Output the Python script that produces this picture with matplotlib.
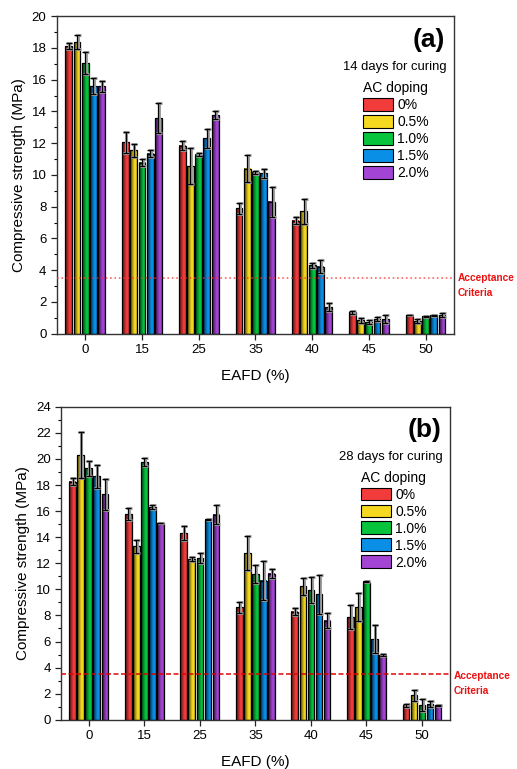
import numpy as np
import matplotlib
matplotlib.use("Agg")
import matplotlib.pyplot as plt
from matplotlib.ticker import MultipleLocator
from matplotlib.patches import Patch

plt.rcParams['font.family'] = ['Liberation Sans', 'DejaVu Sans']

# EAFD content (%) and AC doping levels
eafd = ['0', '15', '25', '35', '40', '45', '50']
doping = ['0%', '0.5%', '1.0%', '1.5%', '2.0%']
colors = ['#f23c3c', '#f5d820', '#06c43c', '#0a8fe6', '#a444d4']

# 14 days curing
d14_0 = [18.1, 12.05, 11.85, 7.9, 7.13, 1.35, 1.18]
d14_05 = [18.35, 11.55, 10.55, 10.4, 7.7, 0.85, 0.8]
d14_10 = [17.05, 10.78, 11.28, 10.17, 4.3, 0.72, 1.09]
d14_15 = [15.6, 11.34, 12.3, 10.1, 4.23, 0.92, 1.15]
d14_20 = [15.57, 13.6, 13.75, 8.32, 1.68, 0.92, 1.18]
e14_0 = [0.2, 0.65, 0.3, 0.33, 0.2, 0.1, 0.03]
e14_05 = [0.45, 0.4, 1.15, 0.85, 0.8, 0.15, 0.1]
e14_10 = [0.68, 0.2, 0.1, 0.1, 0.15, 0.13, 0.05]
e14_15 = [0.5, 0.2, 0.62, 0.3, 0.4, 0.13, 0.05]
e14_20 = [0.33, 0.95, 0.25, 0.95, 0.23, 0.27, 0.15]

# 28 days curing
d28_0 = [18.27, 15.77, 14.32, 8.63, 8.29, 7.87, 1.1]
d28_05 = [20.3, 13.29, 12.3, 12.79, 10.23, 8.64, 1.87]
d28_10 = [19.27, 19.78, 12.4, 11.18, 9.94, 10.6, 1.13]
d28_15 = [18.66, 16.3, 15.34, 10.68, 9.63, 6.19, 1.2]
d28_20 = [17.3, 15.08, 15.74, 11.2, 7.6, 4.96, 1.1]
e28_0 = [0.25, 0.45, 0.53, 0.42, 0.25, 0.9, 0.1]
e28_05 = [1.75, 0.5, 0.15, 1.3, 0.66, 1.07, 0.4]
e28_10 = [0.6, 0.33, 0.4, 0.69, 1.0, 0.02, 0.44]
e28_15 = [0.85, 0.16, 0.05, 1.5, 1.5, 1.1, 0.22]
e28_20 = [1.2, 0.02, 0.7, 0.33, 0.56, 0.1, 0.02]

accept = 3.5


def grad_fill(ax, rects, color):
    # horizontal dark -> bright gradient inside each bar
    base = np.array(matplotlib.colors.to_rgb(color))
    t = np.linspace(0, 1, 24)
    f = 0.3 + 0.7 * np.clip(t / 0.65, 0, 1)
    f[-3:] = f[-3:] * np.array([0.95, 0.9, 0.8])
    img = (f[:, None] * base[None, :])[None, :, :]
    for r in rects:
        x0, w, h = r.get_x(), r.get_width(), r.get_height()
        ax.imshow(img, extent=[x0, x0 + w, 0, h], aspect='auto',
                  interpolation='bilinear', zorder=2)


def panel(ax, series, errs, ymax, tag, days, lstyle, lcolor, lalpha, ty):
    x = np.arange(len(eafd))
    slot = 0.145
    width = 0.12
    for i, (vals, err) in enumerate(zip(series, errs)):
        xs = x + (i - 2) * slot
        bars = ax.bar(xs, vals, width, facecolor='none', edgecolor='black',
                      linewidth=0.9, zorder=3)
        grad_fill(ax, bars, colors[i])
        ax.errorbar(xs + 0.012, vals, yerr=err, fmt='none', ecolor='#a0a0a0',
                    elinewidth=2.2, capsize=2.4, capthick=2.2, zorder=4)
        ax.errorbar(xs, vals, yerr=err, fmt='none', ecolor='black',
                    elinewidth=0.9, capsize=2.2, capthick=0.9, zorder=5)
    ax.axhline(accept, color=lcolor, linestyle=lstyle, linewidth=1.2,
               alpha=lalpha, zorder=6)
    ax.text(1.01, ty, 'Acceptance\nCriteria', color='#ee1111', fontsize=7.3,
            fontweight='bold', va='center', ha='left', linespacing=1.6,
            transform=ax.get_yaxis_transform(), clip_on=False)
    ax.set_xlim(-0.5, 6.5)
    ax.set_ylim(0, ymax)
    ax.set_xticks(x)
    ax.set_xticklabels(eafd)
    ax.yaxis.set_major_locator(MultipleLocator(2))
    ax.yaxis.set_minor_locator(MultipleLocator(1))
    ax.tick_params(axis='both', direction='out', labelsize=9.5, width=0.9,
                   length=4, colors='#222222', labelcolor='black')
    ax.tick_params(axis='y', which='minor', length=2.5, width=0.8)
    ax.tick_params(axis='x', which='minor', bottom=False)
    for s in ax.spines.values():
        s.set_linewidth(1.0)
        s.set_color('#333333')
    ax.set_ylabel('Compressive strength (MPa)', fontsize=11)
    ax.set_xlabel('EAFD (%)', fontsize=11, labelpad=9)
    ax.text(0.978, 0.926, tag, transform=ax.transAxes, ha='right',
            va='center', fontsize=19, fontweight='bold')
    ax.text(0.982, 0.839, days, transform=ax.transAxes, ha='right',
            va='center', fontsize=9.4)
    handles = [Patch(facecolor=c, edgecolor='black', linewidth=0.8)
               for c in colors]
    leg = ax.legend(handles, doping, title='AC doping', loc='upper left',
                    bbox_to_anchor=(0.768, 0.80), frameon=False, fontsize=10,
                    title_fontsize=10, handlelength=2.15, handleheight=1.05,
                    handletextpad=0.3, labelspacing=0.2, borderpad=0.1,
                    borderaxespad=0)
    leg._legend_box.align = 'left'


fig = plt.figure(figsize=(5.17, 7.69), dpi=100)
ax1 = fig.add_axes([0.110, 0.566, 0.768, 0.413])
ax2 = fig.add_axes([0.118, 0.064, 0.752, 0.407])

panel(ax1, [d14_0, d14_05, d14_10, d14_15, d14_20],
      [e14_0, e14_05, e14_10, e14_15, e14_20], 20, '(a)',
      '14 days for curing', ':', '#ff3030', 0.75, 3.05)
panel(ax2, [d28_0, d28_05, d28_10, d28_15, d28_20],
      [e28_0, e28_05, e28_10, e28_15, e28_20], 24, '(b)',
      '28 days for curing', (0, (3, 1.5)), '#dd0000', 0.9, 2.8)

fig.savefig('out.png', dpi=100)
